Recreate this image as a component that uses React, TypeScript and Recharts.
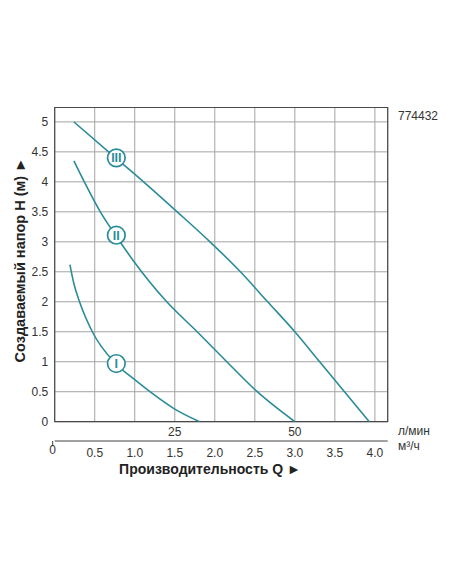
import React from 'react';
import {
  ComposedChart, Line, Scatter, XAxis, YAxis, CartesianGrid, ReferenceArea,
} from 'recharts';

// pump curves, Q in m³/h, H in m
const curve1Q = [0.19, 0.24, 0.31, 0.47, 0.76, 1.0, 1.19, 1.5, 1.81];
const curve1H = [2.62, 2.3, 2.0, 1.5, 0.97, 0.7, 0.5, 0.21, 0];

const curve2Q = [0.24, 0.37, 0.57, 0.76, 0.98, 1.4, 1.78, 2.15, 2.53, 3.0];
const curve2H = [4.35, 4.0, 3.5, 3.11, 2.69, 2.0, 1.5, 1.0, 0.5, 0];

const curve3Q = [0.24, 0.76, 1.11, 1.53, 1.94, 2.32, 2.66, 3.0, 3.31, 3.62, 3.93];
const curve3H = [5.0, 4.4, 4.0, 3.5, 3.0, 2.5, 2.0, 1.5, 1.0, 0.5, 0];

const markerQ = [0.77, 0.77, 0.77];
const markerH = [0.97, 3.11, 4.4];
const markerLabels = ['I', 'II', 'III'];

const hTicks = [0, 0.5, 1, 1.5, 2, 2.5, 3, 3.5, 4, 4.5, 5];
const hLabels = ['0', '0.5', '1', '1.5', '2', '2.5', '3', '3.5', '4', '4.5', '5'];
const qTicks = [0, 0.5, 1, 1.5, 2, 2.5, 3, 3.5, 4];
const qLabels = ['0', '0.5', '1.0', '1.5', '2.0', '2.5', '3.0', '3.5', '4.0'];
const lminTicks = [25, 50];

const Q_MAX = 4.16;
const H_MAX = 5.24;
const M3H_TO_LMIN = 1000 / 60;
const LMIN_MAX = Q_MAX * M3H_TO_LMIN;

const TEAL = '#2b8c99';
const FONT = '"Liberation Sans", Arial, sans-serif';

const toPoints = (qs: number[], hs: number[]) => qs.map((q, i) => ({ q, h: hs[i] }));
const line1 = toPoints(curve1Q, curve1H);
const line2 = toPoints(curve2Q, curve2H);
const line3 = toPoints(curve3Q, curve3H);
// markers are placed on the l/min axis (same scale, converted units)
const markers = markerQ.map((q, i) => ({ lmin: q * M3H_TO_LMIN, h: markerH[i], label: markerLabels[i] }));

const MarkerShape = (props: any) => {
  const { cx, cy, payload } = props;
  return (
    <g>
      <circle cx={cx} cy={cy} r={8.8} fill="#fff" stroke={TEAL} strokeWidth={1.7} />
      <text x={cx} y={cy + 4.5} textAnchor="middle" fontFamily={FONT} fontSize={12.5} fontWeight="bold" fill={TEAL}>
        {payload.label}
      </text>
    </g>
  );
};

const LminTick = (props: any) => {
  const { x, y, payload } = props;
  return (
    <text x={x} y={y + 14.5} textAnchor="middle" fontFamily={FONT} fontSize={12} fill="#333">
      {String(payload.value)}
    </text>
  );
};

const M3hTick = (props: any) => {
  const { x, y, index } = props;
  if (index === 0) {
    return (
      <g>
        <line x1={x - 2} y1={y} x2={x - 2} y2={y + 5} stroke="#444" />
        <text x={x - 2} y={y + 12.5} textAnchor="middle" fontFamily={FONT} fontSize={12} fill="#333">{qLabels[0]}</text>
      </g>
    );
  }
  return (
    <text x={x} y={y + 16} textAnchor="middle" fontFamily={FONT} fontSize={12} fill="#333">
      {qLabels[index]}
    </text>
  );
};

export default function App() {
  return (
    <div style={{ position: 'absolute', left: 0, top: 0, width: 452, height: 584, background: '#fff' }}>
      <ComposedChart
        width={452}
        height={584}
        margin={{ top: 107.5, right: 64.3, left: 0, bottom: 103 }}
      >
        <CartesianGrid
          xAxisId="m3h"
          stroke="#a3a3a3"
          strokeWidth={1}
        />
        <XAxis
          xAxisId="lmin"
          dataKey="lmin"
          type="number"
          domain={[0, LMIN_MAX]}
          allowDataOverflow
          ticks={lminTicks}
          height={19.3}
          axisLine={false}
          tickLine={false}
          tickSize={0}
          tickMargin={0}
          tick={<LminTick />}
          label={() => (
            <text x={398} y={435} fontFamily={FONT} fontSize={12} fill="#333">л/мин</text>
          )}
        />
        <XAxis
          xAxisId="m3h"
          dataKey="q"
          type="number"
          domain={[0, Q_MAX]}
          allowDataOverflow
          ticks={qTicks}
          height={40}
          axisLine={{ stroke: '#444', strokeWidth: 1 }}
          tickLine={false}
          tickSize={0}
          tickMargin={0}
          tick={<M3hTick />}
          label={() => (
            <g>
              <text x={398} y={450} fontFamily={FONT} fontSize={12} fill="#333">м³/ч</text>
              <text x={210} y={474} textAnchor="middle" fontFamily={FONT} fontSize={14} fontWeight="bold" fill="#222">
                Производительность Q ►
              </text>
            </g>
          )}
        />
        <YAxis
          type="number"
          domain={[0, H_MAX]}
          allowDataOverflow
          ticks={hTicks}
          width={54.7}
          axisLine={false}
          tickLine={false}
          tickSize={0}
          tickMargin={6.5}
          tickFormatter={(v: number) => hLabels[hTicks.indexOf(v)]}
          tick={{ fontFamily: FONT, fontSize: 12, fill: '#333' }}
          label={() => (
            <text
              x={24.5}
              y={260}
              transform="rotate(-90 24.5 260)"
              textAnchor="middle"
              fontFamily={FONT}
              fontSize={14.5}
              fontWeight="bold"
              fill="#222"
            >
              Создаваемый напор H (м) ►
            </text>
          )}
        />
        <ReferenceArea
          xAxisId="m3h"
          x1={0}
          x2={Q_MAX}
          y1={0}
          y2={H_MAX}
          fill="none"
          fillOpacity={0}
          stroke="#4a4a4a"
          strokeWidth={1.2}
          label={() => (
            <text x={398} y={120} fontFamily={FONT} fontSize={12} fill="#333">774432</text>
          )}
        />
        <Line xAxisId="m3h" data={line1} dataKey="h" type="monotone" stroke={TEAL} strokeWidth={1.6} dot={false} isAnimationActive={false} />
        <Line xAxisId="m3h" data={line2} dataKey="h" type="monotone" stroke={TEAL} strokeWidth={1.6} dot={false} isAnimationActive={false} />
        <Line xAxisId="m3h" data={line3} dataKey="h" type="monotone" stroke={TEAL} strokeWidth={1.6} dot={false} isAnimationActive={false} />
        <Scatter xAxisId="lmin" data={markers} dataKey="h" shape={<MarkerShape />} isAnimationActive={false} />
      </ComposedChart>
    </div>
  );
}
